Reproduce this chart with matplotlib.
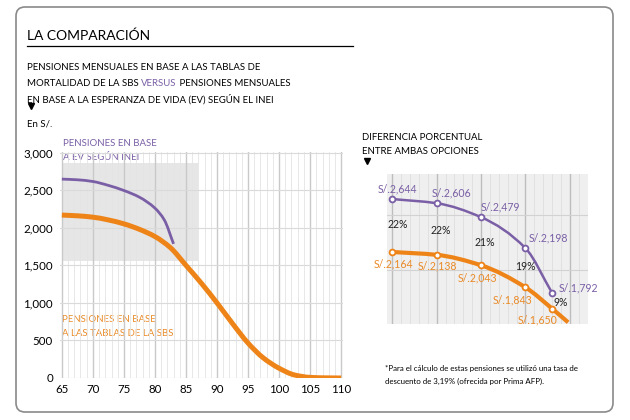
"""
La comparación: pensiones SBS vs esperanza de vida INEI
"""

import matplotlib

matplotlib.use("Agg")
import matplotlib.pyplot as plt
from matplotlib.patches import FancyBboxPatch, PathPatch, Rectangle
from matplotlib.path import Path

plt.rcParams["font.family"] = ["Lato", "DejaVu Sans"]

MORADO = "#7a5fa6"
NARANJA = "#ee8418"
NARANJA_TXT = "#ea8a26"

# Datos: grafico principal (edad vs pension en S/.)
edad_ev = [65, 67.5, 70, 72.5, 75, 77.5, 80, 81.5, 83]
pension_ev = [2649, 2640, 2617, 2565, 2497, 2408, 2262, 2106, 1786]

edad_sbs = [65, 67.5, 70, 72.5, 75, 77.5, 80, 82.5, 85, 87.5, 90, 92.5, 95,
            97.5, 100, 102.5, 105, 107.5, 110]
pension_sbs = [2170, 2160, 2142, 2105, 2053, 1980, 1884, 1735, 1500, 1260,
               1000, 725, 465, 265, 130, 40, 8, 2, 0]

# Datos: recuadro (diferencia porcentual)
edad_det = [65, 70, 75, 80, 83]
det_ev = [2644, 2606, 2479, 2198, 1792]
det_sbs = [2164, 2138, 2043, 1843, 1650]
dif_pct = [22, 22, 21, 19, 9]
cola_edad = 84.8
cola_sbs = 1526

y_ticks = [0, 500, 1000, 1500, 2000, 2500, 3000]
x_ticks = [65, 70, 75, 80, 85, 90, 95, 100, 105, 110]


def curva(ax, xs, ys, color, lw, z=3):
    # trazo suave monotono (tipo PCHIP) que pasa por los puntos leidos
    n = len(xs)
    h = [xs[i + 1] - xs[i] for i in range(n - 1)]
    d = [(ys[i + 1] - ys[i]) / h[i] for i in range(n - 1)]
    m = [d[0]] + [0.0] * (n - 2) + [d[-1]]
    for k in range(1, n - 1):
        if d[k - 1] * d[k] > 0:
            w1 = 2 * h[k] + h[k - 1]
            w2 = h[k] + 2 * h[k - 1]
            m[k] = (w1 + w2) / (w1 / d[k - 1] + w2 / d[k])
    verts = [(xs[0], ys[0])]
    codes = [Path.MOVETO]
    for i in range(n - 1):
        verts += [(xs[i] + h[i] / 3, ys[i] + m[i] * h[i] / 3),
                  (xs[i + 1] - h[i] / 3, ys[i + 1] - m[i + 1] * h[i] / 3),
                  (xs[i + 1], ys[i + 1])]
        codes += [Path.CURVE4] * 3
    ax.add_patch(PathPatch(Path(verts, codes), fill=False, ec=color, lw=lw,
                           capstyle="butt", joinstyle="round", zorder=z))


fig = plt.figure(figsize=(6.3, 4.2), dpi=100)

# fondo en coordenadas de pixel
bg = fig.add_axes([0, 0, 1, 1])
bg.set_xlim(0, 630)
bg.set_ylim(420, 0)
bg.axis("off")
bg.add_patch(FancyBboxPatch((16, 7), 597, 405, boxstyle="round,pad=0,rounding_size=9",
                            fc="white", ec="#8a8a8a", lw=1.2))

bg.text(27, 36, "LA COMPARACIÓN", fontsize=10, va="center", ha="left")
bg.plot([27, 353], [46, 46], color="black", lw=0.9)
kw = dict(fontsize=6.9, va="center", ha="left")
bg.text(27, 68, "PENSIONES MENSUALES EN BASE A LAS TABLAS DE", **kw)
t = bg.text(27, 84, "MORTALIDAD DE LA SBS ", **kw)
t2 = bg.annotate("VERSUS", xycoords=t, xy=(1, 0), va="bottom", ha="left",
                 fontsize=6.9, color=MORADO)
bg.annotate(" PENSIONES MENSUALES", xycoords=t2, xy=(1, 0), va="bottom",
            ha="left", fontsize=6.9)
bg.text(27, 99, "EN BASE A LA ESPERANZA DE VIDA (EV) SEGÚN EL INEI", **kw)
bg.plot([31, 367], [106, 161], "v", ms=4.5, color="black", ls="none")
bg.text(27, 124, "En S/.", **kw)

bg.text(63, 143, "PENSIONES EN BASE", fontsize=6.9, va="center", color=MORADO)
bg.text(63, 157, "A EV SEGÚN INEI", fontsize=6.9, va="center", color=MORADO)
bg.text(62, 320, "PENSIONES EN BASE", fontsize=6.9, va="center", color=NARANJA_TXT)
bg.text(62, 334, "A LAS TABLAS DE LA SBS", fontsize=6.9, va="center", color=NARANJA_TXT)

bg.text(362, 137, "DIFERENCIA PORCENTUAL", **kw)
bg.text(362, 152, "ENTRE AMBAS OPCIONES", **kw)

bg.text(385, 369, "*Para el cálculo de estas pensiones se utilizó una tasa de",
        fontsize=5.7, va="center")
bg.text(385, 381, "descuento de 3,19% (ofrecida por Prima AFP).",
        fontsize=5.7, va="center")

# grafico principal
ax = fig.add_axes([60 / 630, 1 - 378 / 420, 283 / 630, 226 / 420])
ax.set_xlim(64.7, 110.3)
ax.set_ylim(0, 3010)
ax.patch.set_alpha(0)
for s in ax.spines.values():
    s.set_visible(False)
for e in range(65, 111):
    mayor = e % 5 == 0
    ax.axvline(e, color="#c9c9c9" if mayor else "#e4e4e4",
               lw=1.0 if mayor else 0.6, zorder=1)
for v in y_ticks:
    ax.axhline(v, color="#dadada", lw=0.8, zorder=1)
ax.add_patch(Rectangle((65, 1560), 22, 1300, fc="#e6e6e6", ec="none", zorder=0.5))
ax.set_xticks(x_ticks)
ax.set_yticks(y_ticks)
ax.set_yticklabels([f"{v:,}" for v in y_ticks])
ax.tick_params(length=0, labelsize=8.3, pad=5)
ax.tick_params(axis="x", pad=4)
curva(ax, edad_sbs, pension_sbs, NARANJA, 3.6)
curva(ax, edad_ev, pension_ev, MORADO, 2.0)

# recuadro
ins = fig.add_axes([387 / 630, 1 - 324 / 420, 201 / 630, 150 / 420])
ins.set_xlim(64.4, 87.04)
ins.set_ylim(1511, 2871)
ins.set_facecolor("#efefef")
for s in ins.spines.values():
    s.set_visible(False)
ins.set_xticks([])
ins.set_yticks([])
for e in range(65, 88):
    mayor = e % 5 == 0
    ins.axvline(e, color="#bdbdbd" if mayor else "#dedede",
                lw=1.0 if mayor else 0.6, zorder=1)
for v in [2000, 2500]:
    ins.axhline(v, color="#d2d2d2", lw=0.8, zorder=1)

curva(ins, edad_det + [cola_edad], det_sbs + [cola_sbs], NARANJA, 3.0)
curva(ins, edad_det, det_ev, MORADO, 1.8)
ins.plot(edad_det, det_sbs, "o", ms=4.2, mfc="white", mec=NARANJA, mew=1.3, zorder=4)
ins.plot(edad_det, det_ev, "o", ms=4.2, mfc="white", mec=MORADO, mew=1.3, zorder=4)

off_ev = [(5, 10), (15, 10), (19, 10), (23, 10), (26, 5)]
off_pct = [(5, -25), (4, -27), (4, -25), (0, -18), (9, -9)]
off_sbs = [(1, -12), (1, -11), (-4, -13), (-13, -13), (-15, -11)]
for i, e in enumerate(edad_det):
    ins.annotate(f"S/.{det_ev[i]:,}", (e, det_ev[i]), xytext=off_ev[i],
                 textcoords="offset pixels", ha="center", va="center",
                 fontsize=7.6, color=MORADO, zorder=5, annotation_clip=False)
    ins.annotate(f"{dif_pct[i]}%", (e, det_ev[i]), xytext=off_pct[i],
                 textcoords="offset pixels", ha="center", va="center",
                 fontsize=7.6, color="#222222", zorder=5, annotation_clip=False)
    ins.annotate(f"S/.{det_sbs[i]:,}", (e, det_sbs[i]), xytext=off_sbs[i],
                 textcoords="offset pixels", ha="center", va="center",
                 fontsize=7.6, color=NARANJA_TXT, zorder=5, annotation_clip=False)

fig.savefig("out.png", dpi=100)
